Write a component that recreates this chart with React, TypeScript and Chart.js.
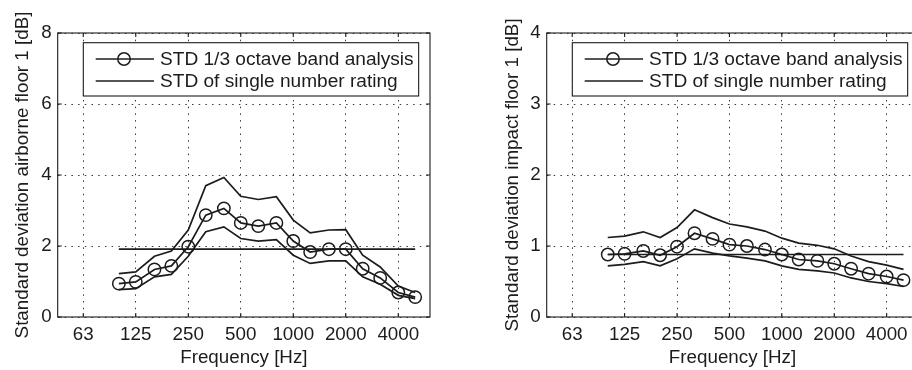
import React, { useEffect, useRef } from 'react';
import { Chart, registerables } from 'chart.js';

Chart.register(...registerables);

// ---------- data ----------
const FREQS = [100, 125, 160, 200, 250, 315, 400, 500, 630, 800, 1000, 1250, 1600, 2000, 2500, 3150, 4000, 5000];
const X_TICK_VALUES = [62.5, 125, 250, 500, 1000, 2000, 4000];
const X_TICK_LABELS = ['63', '125', '250', '500', '1000', '2000', '4000'];
const LEGEND_LABELS = ['STD 1/3 octave band analysis', 'STD of single number rating'];

const AIR_MEAN = [0.94, 0.99, 1.34, 1.44, 1.98, 2.87, 3.06, 2.65, 2.56, 2.65, 2.14, 1.83, 1.91, 1.91, 1.36, 1.10, 0.69, 0.56];
const AIR_UPPER = [1.22, 1.27, 1.71, 1.86, 2.45, 3.70, 3.93, 3.40, 3.31, 3.39, 2.73, 2.37, 2.45, 2.46, 1.74, 1.41, 0.87, 0.69];
const AIR_LOWER = [0.77, 0.80, 1.13, 1.20, 1.71, 2.40, 2.54, 2.21, 2.14, 2.18, 1.74, 1.51, 1.58, 1.58, 1.13, 0.92, 0.61, 0.52];
const AIR_SNR = 1.91;

const IMP_MEAN = [0.88, 0.89, 0.93, 0.87, 0.99, 1.18, 1.10, 1.02, 1.00, 0.95, 0.88, 0.81, 0.79, 0.75, 0.68, 0.61, 0.57, 0.52];
const IMP_UPPER = [1.12, 1.14, 1.20, 1.12, 1.26, 1.51, 1.40, 1.31, 1.27, 1.21, 1.11, 1.04, 1.01, 0.96, 0.86, 0.78, 0.73, 0.67];
const IMP_LOWER = [0.72, 0.74, 0.78, 0.72, 0.82, 0.96, 0.90, 0.86, 0.83, 0.79, 0.72, 0.67, 0.65, 0.62, 0.55, 0.50, 0.47, 0.43];
const IMP_SNR = 0.88;

// ---------- style ----------
const INK = '#1c1c1c';
const GRID = '#3a3a3a';
const FAMILY = '"Liberation Sans", Arial, Helvetica, sans-serif';
const TICK_FONT = { family: FAMILY, size: 18.8 };
const LEGEND_FONT_SIZE = 19.1;

const framePlugin = {
  id: 'matlabFrame',
  afterDatasetsDraw(chart: any) {
    const { ctx, chartArea: a, scales } = chart;
    ctx.save();
    ctx.strokeStyle = INK;
    ctx.lineWidth = 1.1;
    const L = 4;
    ctx.beginPath();
    for (const v of X_TICK_VALUES) {
      const x = scales.x.getPixelForValue(v);
      ctx.moveTo(x, a.bottom);
      ctx.lineTo(x, a.bottom - L);
      ctx.moveTo(x, a.top);
      ctx.lineTo(x, a.top + L);
    }
    for (const t of scales.y.ticks) {
      const y = scales.y.getPixelForValue(t.value);
      ctx.moveTo(a.left, y);
      ctx.lineTo(a.left + L, y);
      ctx.moveTo(a.right, y);
      ctx.lineTo(a.right - L, y);
    }
    ctx.stroke();
    ctx.strokeRect(a.left, a.top, a.right - a.left, a.bottom - a.top);

    // legend box (MATLAB style, inside the axes, top-right)
    const ds = chart.data.datasets.slice(0, 2);
    ctx.font = `${LEGEND_FONT_SIZE}px ${FAMILY}`;
    const textX = a.left + 102.3;
    const maxW = Math.max(...ds.map((d: any) => ctx.measureText(d.label).width));
    const bx = a.left + 25.6;
    const by = a.top + 9.7;
    const bw = textX + maxW + 5 - bx;
    const bh = 53.3;
    ctx.fillStyle = '#ffffff';
    ctx.fillRect(bx, by, bw, bh);
    ctx.lineWidth = 1.1;
    ctx.strokeRect(bx, by, bw, bh);
    ds.forEach((d: any, i: number) => {
      const y = a.top + 26 + i * 22;
      ctx.strokeStyle = INK;
      ctx.lineWidth = 1.6;
      ctx.beginPath();
      ctx.moveTo(a.left + 38, y);
      ctx.lineTo(a.left + 96.3, y);
      ctx.stroke();
      if (d.pointRadius > 0) {
        ctx.lineWidth = d.pointBorderWidth;
        ctx.beginPath();
        ctx.arc(a.left + 66.3, y, d.pointRadius, 0, Math.PI * 2);
        ctx.stroke();
      }
      ctx.fillStyle = INK;
      ctx.textBaseline = 'middle';
      ctx.textAlign = 'left';
      ctx.fillText(d.label, textX, y + 0.5);
    });
    ctx.restore();
  },
};

type PanelProps = {
  mean: number[];
  upper: number[];
  lower: number[];
  snr: number;
  ymax: number;
  ystep: number;
  ytitle: string;
  width: number;
  axisLeft: number;
  padRight: number;
  ytitlePad: number;
  left: number;
};

function Panel(p: PanelProps) {
  const ref = useRef<HTMLCanvasElement | null>(null);
  useEffect(() => {
    if (!ref.current) return;
    const pts = (arr: number[]) => FREQS.map((f, i) => ({ x: f, y: arr[i] }));
    const lineDs = (label: string, data: any[]) => ({
      label,
      data,
      borderColor: INK,
      borderWidth: 1.7,
      pointRadius: 0,
      pointHoverRadius: 0,
      tension: 0,
      fill: false,
    });
    const chart = new Chart(ref.current, {
      type: 'line',
      data: {
        datasets: [
          {
            label: LEGEND_LABELS[0],
            data: pts(p.mean),
            borderColor: INK,
            borderWidth: 1.7,
            pointRadius: 6.2,
            pointHoverRadius: 6.2,
            pointBorderWidth: 1.5,
            pointBorderColor: INK,
            pointBackgroundColor: 'rgba(0,0,0,0)',
            tension: 0,
            fill: false,
          },
          lineDs(LEGEND_LABELS[1], [
            { x: FREQS[0], y: p.snr },
            { x: FREQS[FREQS.length - 1], y: p.snr },
          ]),
          lineDs('upper', pts(p.upper)),
          lineDs('lower', pts(p.lower)),
        ],
      },
      options: {
        animation: false,
        responsive: false,
        devicePixelRatio: 1,
        events: [],
        layout: { padding: { top: 33, right: p.padRight, bottom: 0, left: 0 } },
        plugins: { legend: { display: false }, tooltip: { enabled: false } },
        scales: {
          x: {
            type: 'logarithmic',
            min: 44.6,
            max: 6080,
            bounds: 'data',
            afterBuildTicks: (s: any) => {
              s.ticks = X_TICK_VALUES.map((v) => ({ value: v }));
            },
            afterFit: (s: any) => {
              s.height = 53;
            },
            ticks: {
              callback: (_v: any, i: number) => X_TICK_LABELS[i],
              font: TICK_FONT,
              color: INK,
              padding: 7,
              maxRotation: 0,
              minRotation: 0,
              autoSkip: false,
            },
            grid: { color: GRID, lineWidth: 1, drawTicks: false },
            border: { display: false, dash: [1.5, 5.2] },
            title: {
              display: true,
              text: 'Frequency [Hz]',
              font: TICK_FONT,
              color: INK,
              padding: { top: 0, bottom: 1 },
            },
          },
          y: {
            type: 'linear',
            min: 0,
            max: p.ymax,
            afterFit: (s: any) => {
              s.width = p.axisLeft;
            },
            ticks: { stepSize: p.ystep, font: TICK_FONT, color: INK, padding: 6 },
            grid: { color: GRID, lineWidth: 1, drawTicks: false },
            border: { display: false, dash: [1.5, 5.2] },
            title: {
              display: true,
              text: p.ytitle,
              font: TICK_FONT,
              color: INK,
              padding: { top: p.ytitlePad, bottom: 0 },
            },
          },
        },
      } as any,
      plugins: [framePlugin],
    } as any);
    return () => chart.destroy();
  }, []);
  return (
    <canvas
      ref={ref}
      width={p.width}
      height={370}
      style={{
        position: 'absolute',
        left: p.left,
        top: 0,
        width: `${p.width}px`,
        height: '370px',
        display: 'block',
      }}
    />
  );
}

export default function App() {
  return (
    <div
      style={{
        position: 'fixed',
        left: 0,
        top: 0,
        width: 912,
        height: 370,
        overflow: 'hidden',
        background: '#ffffff',
      }}
    >
      <Panel
        mean={AIR_MEAN}
        upper={AIR_UPPER}
        lower={AIR_LOWER}
        snr={AIR_SNR}
        ymax={8}
        ystep={2}
        ytitle="Standard deviation airborne floor 1 [dB]"
        width={456}
        axisLeft={57.7}
        padRight={26}
        ytitlePad={11.5}
        left={0}
      />
      <Panel
        mean={IMP_MEAN}
        upper={IMP_UPPER}
        lower={IMP_LOWER}
        snr={IMP_SNR}
        ymax={4}
        ystep={1}
        ytitle="Standard deviation impact floor 1 [dB]"
        width={470}
        axisLeft={90.7}
        padRight={7}
        ytitlePad={45.5}
        left={456}
      />
    </div>
  );
}
